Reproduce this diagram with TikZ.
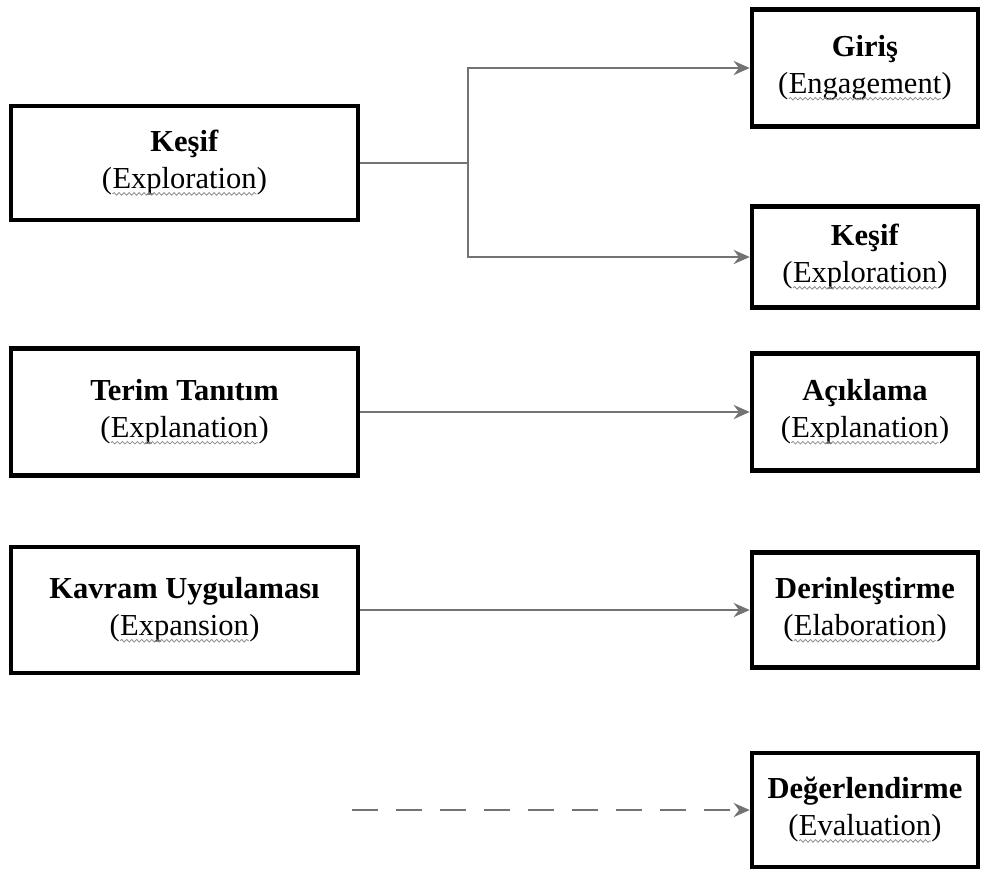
\documentclass[tikz,border=0pt]{standalone}
\usepackage{fontspec}
\setmainfont{Liberation Serif}
\usetikzlibrary{arrows.meta,decorations.pathmorphing}
\newcommand\grwave[1]{\tikz[baseline=(w.base),x=1pt,y=1pt]{%
  \node[inner sep=0pt,outer sep=0pt,draw=none,fill=none,minimum width=0pt,minimum height=0pt] (w) {#1};%
  \draw[black!45, line width=0.8pt, decorate, decoration={snake, amplitude=1.3pt, segment length=5pt}]
    ([yshift=-5pt]w.base west) -- ([yshift=-5pt]w.base east);}}
\begin{document}
\begin{tikzpicture}[x=1pt,y=-1pt,
  box/.style={draw=black, line width=4.5pt, fill=white, align=center, inner sep=0pt,
              font=\fontsize{30.5}{37}\selectfont},
  lbox/.style={box, minimum width=347pt},
  rbox/.style={box, minimum width=226pt},
  conn/.style={draw=black!55, line width=2.8pt},
  arr/.style={conn, -{Stealth[length=16pt,width=14pt]}},
  dashconn/.style={arr, dash pattern=on 26pt off 18pt}
]
\useasboundingbox (0,0) rectangle (983,871);

% left column
\node[lbox, minimum height=114pt] (L1) at (184.5,163) {\textbf{Keşif}\\(\grwave{Exploration})};
\node[lbox, minimum height=127pt] (L2) at (184.5,412) {\textbf{Terim Tanıtım}\\(\grwave{Explanation})};
\node[lbox, minimum height=126pt] (L3) at (184.5,610) {\textbf{Kavram Uygulaması}\\(\grwave{Expansion})};

% right column
\node[rbox, minimum height=117pt] (R1) at (865,68) {\textbf{Giriş}\\(\grwave{Engagement})};
\node[rbox, minimum height=101pt] (R2) at (865,257) {\textbf{Keşif}\\(\grwave{Exploration})};
\node[rbox, minimum height=117pt] (R3) at (865,412) {\textbf{Açıklama}\\(\grwave{Explanation})};
\node[rbox, minimum height=115pt] (R4) at (865,610) {\textbf{Derinleştirme}\\(\grwave{Elaboration})};
\node[rbox, minimum height=114pt] (R5) at (865,810) {\textbf{Değerlendirme}\\(\grwave{Evaluation})};

% connectors
\coordinate (br) at (468,163);
\draw[conn] (L1.east) -- (br);
\draw[arr] (br) |- (R1.west);
\draw[arr] (br) |- (R2.west);
\draw[arr] (L2.east) -- (R3.west);
\draw[arr] (L3.east) -- (R4.west);
\coordinate (ds) at (352,810);
\draw[dashconn] (ds) -- (R5.west);
\end{tikzpicture}
\end{document}
